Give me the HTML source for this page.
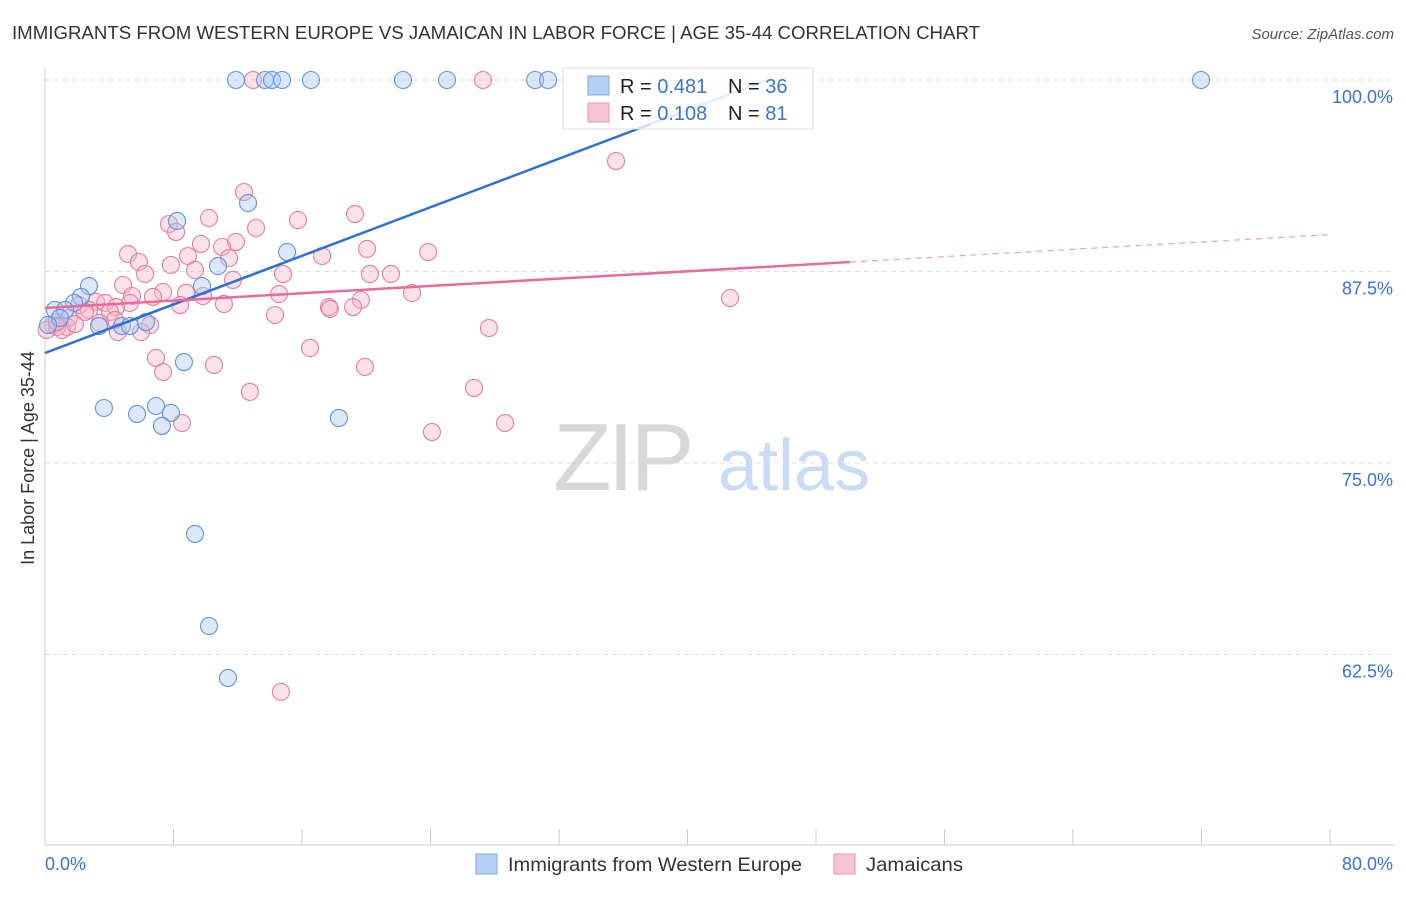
<!DOCTYPE html>
<html><head><meta charset="utf-8"><style>
body{margin:0;background:#fff;font-family:"Liberation Sans",sans-serif;}
svg text{font-family:"Liberation Sans",sans-serif;}
</style></head><body>
<svg id="chart" width="1406" height="892" xmlns="http://www.w3.org/2000/svg">
<text x="12" y="39" font-size="18" fill="#333" textLength="968" lengthAdjust="spacingAndGlyphs">IMMIGRANTS FROM WESTERN EUROPE VS JAMAICAN IN LABOR FORCE | AGE 35-44 CORRELATION CHART</text>
<text x="1394" y="39" font-size="15" fill="#555" text-anchor="end" font-style="italic">Source: ZipAtlas.com</text>
<g id="grid"></g>
<g><text x="553" y="490" font-size="96" fill="#d8d8d8" font-family="Liberation Serif" letter-spacing="-4">ZIP</text><text x="718" y="490" font-size="72" fill="#c9dcf3">atlas</text></g>
<g id="marks"></g>
<text transform="translate(34,458) rotate(-90)" font-size="18" fill="#333" text-anchor="middle">In Labor Force | Age 35-44</text>
<g>
<rect x="563" y="68" width="250" height="61" fill="#fff" fill-opacity="0.75" stroke="#ddd"/>
<rect x="588" y="76" width="21" height="19" fill="#b5d0f3" stroke="#7eaae3"/>
<text x="620" y="93" font-size="20" fill="#222">R = <tspan fill="#3a74d0">0.481</tspan></text>
<text x="728" y="93" font-size="20" fill="#222">N = <tspan fill="#3a74d0">36</tspan></text>
<rect x="588" y="103" width="21" height="19" fill="#f8c4d4" stroke="#eb94b0"/>
<text x="620" y="120" font-size="20" fill="#222">R = <tspan fill="#3a74d0">0.108</tspan></text>
<text x="728" y="120" font-size="20" fill="#222">N = <tspan fill="#3a74d0"> 81</tspan></text>
</g>
<g>
<rect x="476" y="854" width="21" height="20" fill="#b5d0f3" stroke="#7eaae3"/>
<text x="508" y="871" font-size="19.5" fill="#333" textLength="294" lengthAdjust="spacingAndGlyphs">Immigrants from Western Europe</text>
<rect x="834" y="854" width="21" height="20" fill="#f8c4d4" stroke="#eb94b0"/>
<text x="866" y="871" font-size="19.5" fill="#333" textLength="97" lengthAdjust="spacingAndGlyphs">Jamaicans</text>
</g>
</svg>
<script>
const yTicks=[100,87.5,75,62.5];
const yTickLabels=["100.0%","87.5%","75.0%","62.5%"];
const xLabels=["0.0%","80.0%"];
const blueX=[11.89,13.70,14.13,14.76,16.56,22.29,25.03,30.51,31.32,71.97,12.64,8.22,15.07,10.77,2.74,2.24,1.81,0.62,1.25,0.93,0.19,3.36,4.79,5.29,6.29,9.77,8.65,3.67,5.73,6.91,7.84,7.28,18.30,9.34,10.21,11.39];
const blueY=[100,100,100,100,100,100,100,100,100,100,91.97,90.80,88.77,87.86,86.55,85.84,85.45,84.99,84.99,84.47,84.01,83.94,83.94,83.94,84.20,86.55,81.59,78.59,78.20,78.72,78.27,77.42,77.94,70.37,64.36,60.97];
const pinkX=[12.95,27.27,35.55,12.39,19.30,15.75,10.21,7.72,8.16,13.14,11.89,9.71,11.02,20.05,23.85,17.25,11.46,5.17,8.90,5.85,7.84,9.34,6.23,14.82,20.23,21.54,11.70,4.86,7.35,8.78,5.42,6.72,14.57,22.85,9.84,19.67,3.18,3.74,5.29,11.14,8.41,2.12,4.42,2.74,17.68,19.18,17.74,2.49,4.05,14.32,1.49,4.36,0.50,1.37,3.42,6.54,4.54,5.98,27.64,16.50,6.91,10.52,19.92,7.35,26.71,12.76,8.53,28.64,24.09,42.65,14.69,0.75,1.06,1.87,0.1,0.75];
const pinkY=[100,100,94.71,92.69,91.25,90.86,90.99,90.60,90.08,90.34,89.43,89.30,89.10,88.97,88.77,88.51,88.38,88.64,88.51,88.12,87.93,87.60,87.34,87.34,87.34,87.34,86.95,86.62,86.16,86.10,85.90,85.84,86.03,86.10,85.90,85.64,85.51,85.45,85.45,85.38,85.31,85.31,85.18,84.99,85.18,85.18,85.05,84.86,84.86,84.66,84.47,84.34,84.01,83.88,84.14,84.01,83.55,83.55,83.81,82.51,81.86,81.40,81.27,80.94,79.90,79.64,77.61,77.61,77.02,85.77,60.06,83.88,83.68,84.07,83.68,84.20];
const blueTrend=[82.18,0.3964];
const pinkTrend=[85.12,0.0598];
const X=v=>45+v/80*1285, Y=v=>80+(100-v)/12.5*191.5;
const NS="http://www.w3.org/2000/svg";
function mk(p,t,a){const e=document.createElementNS(NS,t);for(const k in a)e.setAttribute(k,a[k]);p.appendChild(e);return e;}
const grid=document.getElementById('grid'),marks=document.getElementById('marks');
yTicks.forEach((v,i)=>{
 const l=mk(grid,'line',{x1:45,x2:1394,y1:Y(v),y2:Y(v),stroke:'#ddd','stroke-dasharray':'5,4'});
 
 
 const t=mk(grid,'text',{x:1393,y:Y(v)+23,'font-size':18,fill:'#3a74d0','text-anchor':'end'});t.textContent=yTickLabels[i];
 
 
});
mk(grid,'line',{x1:45,x2:45,y1:68,y2:845,stroke:'#ccc'});
mk(grid,'line',{x1:45,x2:1394,y1:845,y2:845,stroke:'#ccc'});
for(let i=0;i<=10;i++){const tk=mk(grid,'line',{x1:X(i*8),x2:X(i*8),y1:829,y2:845,stroke:'#ccc'});
 
 }
[[0,'start'],[80,'end']].forEach((d,i)=>{const t=mk(grid,'text',{x:i?1393:45,y:870,'font-size':18,fill:'#3a74d0','text-anchor':d[1]});t.textContent=xLabels[i];
 
 });
function pts(xs,ys,fill,stroke,name){xs.forEach((x,i)=>{const c=mk(marks,'circle',{cx:X(x),cy:Y(ys[i]),r:8.5,fill:fill,'fill-opacity':0.4,stroke:stroke,'stroke-width':1.1});
 
 });}
pts(pinkX,pinkY,'#f5b3c8','#e57fa2','jamaican-point');
pts(blueX,blueY,'#a7c6f0','#5f95dd','western-europe-point');
const ln=(t,a,b,st,w,da,op)=>mk(marks,'line',{x1:X(a),y1:Y(t[0]+t[1]*a),x2:X(b),y2:Y(t[0]+t[1]*b),stroke:st,'stroke-width':w,'stroke-dasharray':da||'none','stroke-opacity':op||1});
const bl=ln(blueTrend,0,37.7,'#2f6fd6',2.5);


ln(blueTrend,37.7,45.1,'#8fb6ec',2.5);
const pl=ln(pinkTrend,0,50.1,'#e8699a',2.5);


ln(pinkTrend,50.1,80,'#e8a0bc',1.2,'6,5');
</script>
</body></html>
